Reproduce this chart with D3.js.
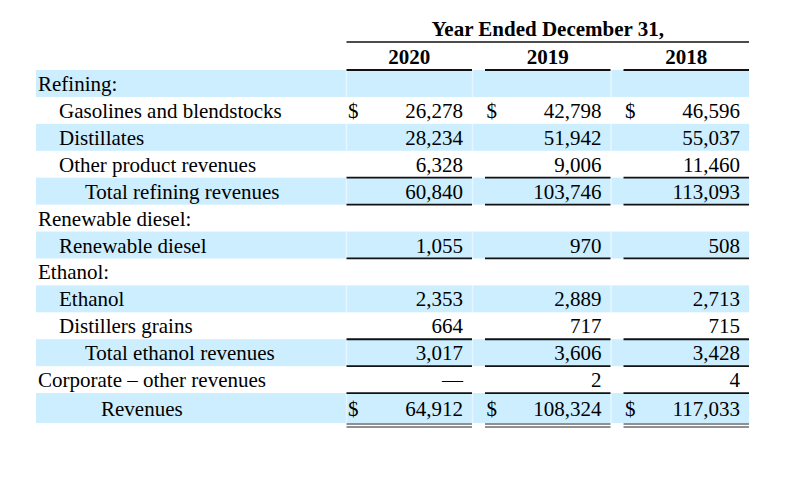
<!DOCTYPE html>
<html>
<head>
<meta charset="utf-8">
<script src="https://cdn.jsdelivr.net/npm/d3@7"></script>
<style>
  html, body { margin: 0; padding: 0; background: #fff; }
  svg { display: block; }
  text { font-family: "Liberation Serif", "Times New Roman", serif; font-size: 21px; fill: #000; }
</style>
</head>
<body>
<svg id="chart" width="794" height="484"></svg>
<script>
// ---- data ----
const title = "Year Ended December 31,";
const years = ["2020", "2019", "2018"];
const labels = [
  "Refining:",
  "Gasolines and blendstocks",
  "Distillates",
  "Other product revenues",
  "Total refining revenues",
  "Renewable diesel:",
  "Renewable diesel",
  "Ethanol:",
  "Ethanol",
  "Distillers grains",
  "Total ethanol revenues",
  "Corporate – other revenues",
  "Revenues"
];
const levels = [0, 1, 1, 1, 2, 0, 1, 0, 1, 1, 2, 0, 3];
const values2020 = [null, 26278, 28234, 6328, 60840, null, 1055, null, 2353, 664, 3017, 0, 64912];
const values2019 = [null, 42798, 51942, 9006, 103746, null, 970, null, 2889, 717, 3606, 2, 108324];
const values2018 = [null, 46596, 55037, 11460, 113093, null, 508, null, 2713, 715, 3428, 4, 117033];
const dollarRows = [1, 12];
const shadedRows = [0, 2, 4, 6, 8, 10, 12];
const ruleAboveRows = [4, 10, 12];
const ruleBelowRows = [4, 6, 10];
const doubleBelowRows = [12];

// ---- layout ----
const series = [values2020, values2019, values2018];
const svg = d3.select("#chart");
const rowIdx = d3.range(labels.length);
const last = labels.length - 1;

const y = d3.scaleBand().domain(rowIdx).range([70, 420]).padding(0);
const x = d3.scaleBand().domain(years).range([346.5, 749]).paddingInner(0.094).paddingOuter(0);
const indent = d3.scaleOrdinal().domain([0, 1, 2, 3]).range([38, 59, 85, 101]);
const fmt = d3.format(",");
const rowH = i => (i === last ? y.bandwidth() + 3 : y.bandwidth());
const baseY = i => y(i) + (i === last ? 23 : 21);

// shading
svg.append("g").selectAll("rect")
  .data(shadedRows)
  .join("rect")
  .attr("x", 36)
  .attr("y", d => y(d))
  .attr("width", 749 - 36)
  .attr("height", d => rowH(d))
  .attr("fill", "#cceeff");

// faint separators in shaded rows
const sepX = [346.5].concat(years.slice(0, 2).map(yr => x(yr) + x.bandwidth() + 0.5));
svg.append("g").selectAll("g")
  .data(shadedRows)
  .join("g")
  .selectAll("line")
  .data(r => sepX.map(sx => ({ r, sx })))
  .join("line")
  .attr("x1", d => d.sx).attr("x2", d => d.sx)
  .attr("y1", d => y(d.r)).attr("y2", d => y(d.r) + rowH(d.r))
  .attr("stroke", "#fff").attr("stroke-opacity", 0.55).attr("stroke-width", 1.5);

// header
svg.append("text")
  .attr("x", (346.5 + 749) / 2)
  .attr("y", 36)
  .attr("text-anchor", "middle")
  .attr("font-weight", "bold")
  .text(title);
svg.append("line")
  .attr("x1", 346.5).attr("x2", 749)
  .attr("y1", 42).attr("y2", 42)
  .attr("stroke", "#111").attr("stroke-width", 1.6);

svg.append("g").selectAll("text")
  .data(years)
  .join("text")
  .attr("x", d => x(d) + x.bandwidth() / 2)
  .attr("y", 64)
  .attr("text-anchor", "middle")
  .attr("font-weight", "bold")
  .text(d => d);
svg.append("g").selectAll("line")
  .data(years)
  .join("line")
  .attr("x1", d => x(d)).attr("x2", d => x(d) + x.bandwidth())
  .attr("y1", 70).attr("y2", 70)
  .attr("stroke", "#111").attr("stroke-width", 1.8);

// labels
svg.append("g").selectAll("text")
  .data(rowIdx)
  .join("text")
  .attr("x", i => indent(levels[i]))
  .attr("y", baseY)
  .text(i => labels[i]);

// values
years.forEach((yr, c) => {
  const g = svg.append("g");
  const vals = series[c];
  g.selectAll("text.v")
    .data(rowIdx.filter(i => vals[i] !== null))
    .join("text")
    .attr("class", "v")
    .attr("x", x(yr) + x.bandwidth() - 9)
    .attr("y", baseY)
    .attr("text-anchor", "end")
    .text(i => vals[i] === 0 ? "—" : fmt(vals[i]));
  g.selectAll("text.d")
    .data(dollarRows)
    .join("text")
    .attr("class", "d")
    .attr("x", x(yr) + 1.5)
    .attr("y", baseY)
    .text("$");
  g.selectAll("line.a")
    .data(ruleAboveRows)
    .join("line")
    .attr("class", "a")
    .attr("x1", x(yr)).attr("x2", x(yr) + x.bandwidth())
    .attr("y1", i => y(i)).attr("y2", i => y(i))
    .attr("stroke", "#111").attr("stroke-width", 1.8);
  g.selectAll("line.b")
    .data(ruleBelowRows)
    .join("line")
    .attr("class", "b")
    .attr("x1", x(yr)).attr("x2", x(yr) + x.bandwidth())
    .attr("y1", i => y(i) + rowH(i)).attr("y2", i => y(i) + rowH(i))
    .attr("stroke", "#111").attr("stroke-width", 1.8);
  [1, 4].forEach(off => {
    g.append("g").selectAll("line")
      .data(doubleBelowRows)
      .join("line")
      .attr("x1", x(yr)).attr("x2", x(yr) + x.bandwidth())
      .attr("y1", i => y(i) + rowH(i) + off).attr("y2", i => y(i) + rowH(i) + off)
      .attr("stroke", "#222").attr("stroke-width", 1.1);
  });
});
</script>
</body>
</html>
